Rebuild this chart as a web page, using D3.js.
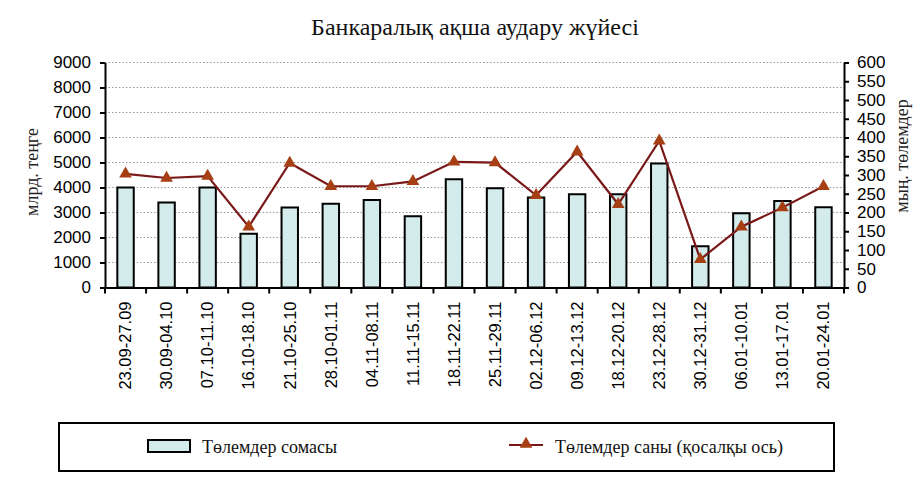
<!DOCTYPE html>
<html>
<head>
<meta charset="utf-8">
<script src="https://cdn.jsdelivr.net/npm/d3@7"></script>
<style>
  body { margin: 0; background: #fff; }
  svg { display: block; }
</style>
</head>
<body>
<svg id="chart" width="924" height="482"></svg>
<script>
const categories = ["23.09-27.09","30.09-04.10","07.10-11.10","16.10-18.10","21.10-25.10","28.10-01.11","04.11-08.11","11.11-15.11","18.11-22.11","25.11-29.11","02.12-06.12","09.12-13.12","18.12-20.12","23.12-28.12","30.12-31.12","06.01-10.01","13.01-17.01","20.01-24.01"];
const paymentsSum = [4000, 3400, 4000, 2150, 3200, 3350, 3500, 2850, 4330, 3970, 3600, 3730, 3730, 4960, 1650, 2970, 3460, 3210];
const paymentsCount = [303, 292, 297, 162, 332, 270, 270, 283, 335, 333, 246, 362, 222, 391, 75, 162, 213, 270];
const leftTicks = [0,1000,2000,3000,4000,5000,6000,7000,8000,9000];
const rightTicks = [0,50,100,150,200,250,300,350,400,450,500,550,600];
const titleText = "Банкаралық ақша аудару жүйесі";
const leftLabel = "млрд. теңге";
const rightLabel = "мың. төлемдер";
const legendBar = "Төлемдер сомасы";
const legendLine = "Төлемдер саны (қосалқы ось)";

const svg = d3.select("#chart");
const L = 105, R = 844, T = 62.5, B = 287.5;

const x = d3.scaleBand().domain(categories).range([L, R]).paddingInner(0.6).paddingOuter(0.3);
const xb = d3.scaleBand().domain(categories).range([L, R]);
const yL = d3.scaleLinear().domain([0, 9000]).range([B, T]);
const yR = d3.scaleLinear().domain([0, 600]).range([B, T]);

const serif = "'Liberation Serif', 'Times New Roman', serif";
const sans = "'Liberation Sans', Arial, sans-serif";

// title
svg.append("text").attr("x", 475).attr("y", 35).attr("text-anchor", "middle")
  .style("font-family", serif).style("font-size", "24px").attr("fill", "#111").text(titleText);

// gridlines
svg.append("g").selectAll("line").data(leftTicks.filter(d => d > 0)).join("line")
  .attr("x1", L).attr("x2", R).attr("y1", d => yL(d)).attr("y2", d => yL(d))
  .attr("stroke", "#999").attr("stroke-width", 1).attr("stroke-dasharray", "1.5,2");

// bars
svg.append("g").selectAll("rect").data(paymentsSum).join("rect")
  .attr("x", (d, i) => x(categories[i]))
  .attr("y", d => yL(d))
  .attr("width", x.bandwidth())
  .attr("height", d => B - yL(d))
  .attr("fill", "#d3ebeb").attr("stroke", "#000").attr("stroke-width", 2);

// axes
const fmt = d3.format("d");
const axL = svg.append("g").attr("transform", `translate(${L},0)`)
  .call(d3.axisLeft(yL).tickValues(leftTicks).tickFormat(fmt).tickSize(5).tickSizeOuter(0).tickPadding(9));
const axR = svg.append("g").attr("transform", `translate(${R},0)`)
  .call(d3.axisRight(yR).tickValues(rightTicks).tickFormat(fmt).tickSize(5).tickSizeOuter(0).tickPadding(8));
const axB = svg.append("g").attr("transform", `translate(0,${B})`)
  .call(d3.axisBottom(xb).tickSize(0).tickSizeOuter(0));
[axL, axR].forEach(a => {
  a.select(".domain").attr("stroke", "#000").attr("stroke-width", 2);
  a.selectAll(".tick line").attr("stroke", "#000").attr("stroke-width", 2);
  a.selectAll("text").style("font-family", sans).style("font-size", "17px").attr("fill", "#000");
});
axB.select(".domain").attr("stroke", "#000").attr("stroke-width", 2);
axB.selectAll(".tick text")
  .attr("transform", "rotate(-90)")
  .attr("x", -14).attr("y", 0).attr("dy", "0.35em")
  .attr("text-anchor", "end")
  .style("font-family", sans).style("font-size", "16.5px").attr("fill", "#000");
// x tick marks at category boundaries
const bounds = categories.map(c => xb(c)).concat([R]);
svg.append("g").selectAll("line").data(bounds).join("line")
  .attr("x1", d => d).attr("x2", d => d).attr("y1", B).attr("y2", B + 6)
  .attr("stroke", "#000").attr("stroke-width", 2);

// line series
const cx = (i) => x(categories[i]) + x.bandwidth() / 2;
const line = d3.line().x((d, i) => cx(i)).y(d => yR(d));
svg.append("path").datum(paymentsCount).attr("d", line)
  .attr("fill", "none").attr("stroke", "#7a1818").attr("stroke-width", 2.2);
const tri = d3.symbol().type(d3.symbolTriangle).size(70);
svg.append("g").selectAll("path").data(paymentsCount).join("path")
  .attr("d", tri)
  .attr("transform", (d, i) => `translate(${cx(i)},${yR(d)})`)
  .attr("fill", "#a63f14");

// axis titles
svg.append("text").attr("transform", "translate(38,172) rotate(-90)")
  .attr("text-anchor", "middle").style("font-family", serif).style("font-size", "18px")
  .attr("fill", "#222").text(leftLabel);
svg.append("text").attr("transform", "translate(908,156) rotate(-90)")
  .attr("text-anchor", "middle").style("font-family", serif).style("font-size", "18px")
  .attr("fill", "#222").text(rightLabel);

// legend
svg.append("rect").attr("x", 59).attr("y", 423).attr("width", 775).attr("height", 48)
  .attr("fill", "#fff").attr("stroke", "#000").attr("stroke-width", 2);
svg.append("rect").attr("x", 148).attr("y", 440).attr("width", 42).attr("height", 12)
  .attr("fill", "#d3ebeb").attr("stroke", "#000").attr("stroke-width", 2);
svg.append("text").attr("x", 202).attr("y", 453).style("font-family", serif).style("font-size", "18px")
  .attr("fill", "#111").text(legendBar);
svg.append("line").attr("x1", 509).attr("x2", 543).attr("y1", 445).attr("y2", 445)
  .attr("stroke", "#7a1818").attr("stroke-width", 2.2);
svg.append("path").attr("d", tri).attr("transform", "translate(526,444)").attr("fill", "#a63f14");
svg.append("text").attr("x", 555).attr("y", 453).style("font-family", serif).style("font-size", "18px")
  .attr("fill", "#111").text(legendLine);
</script>
</body>
</html>
